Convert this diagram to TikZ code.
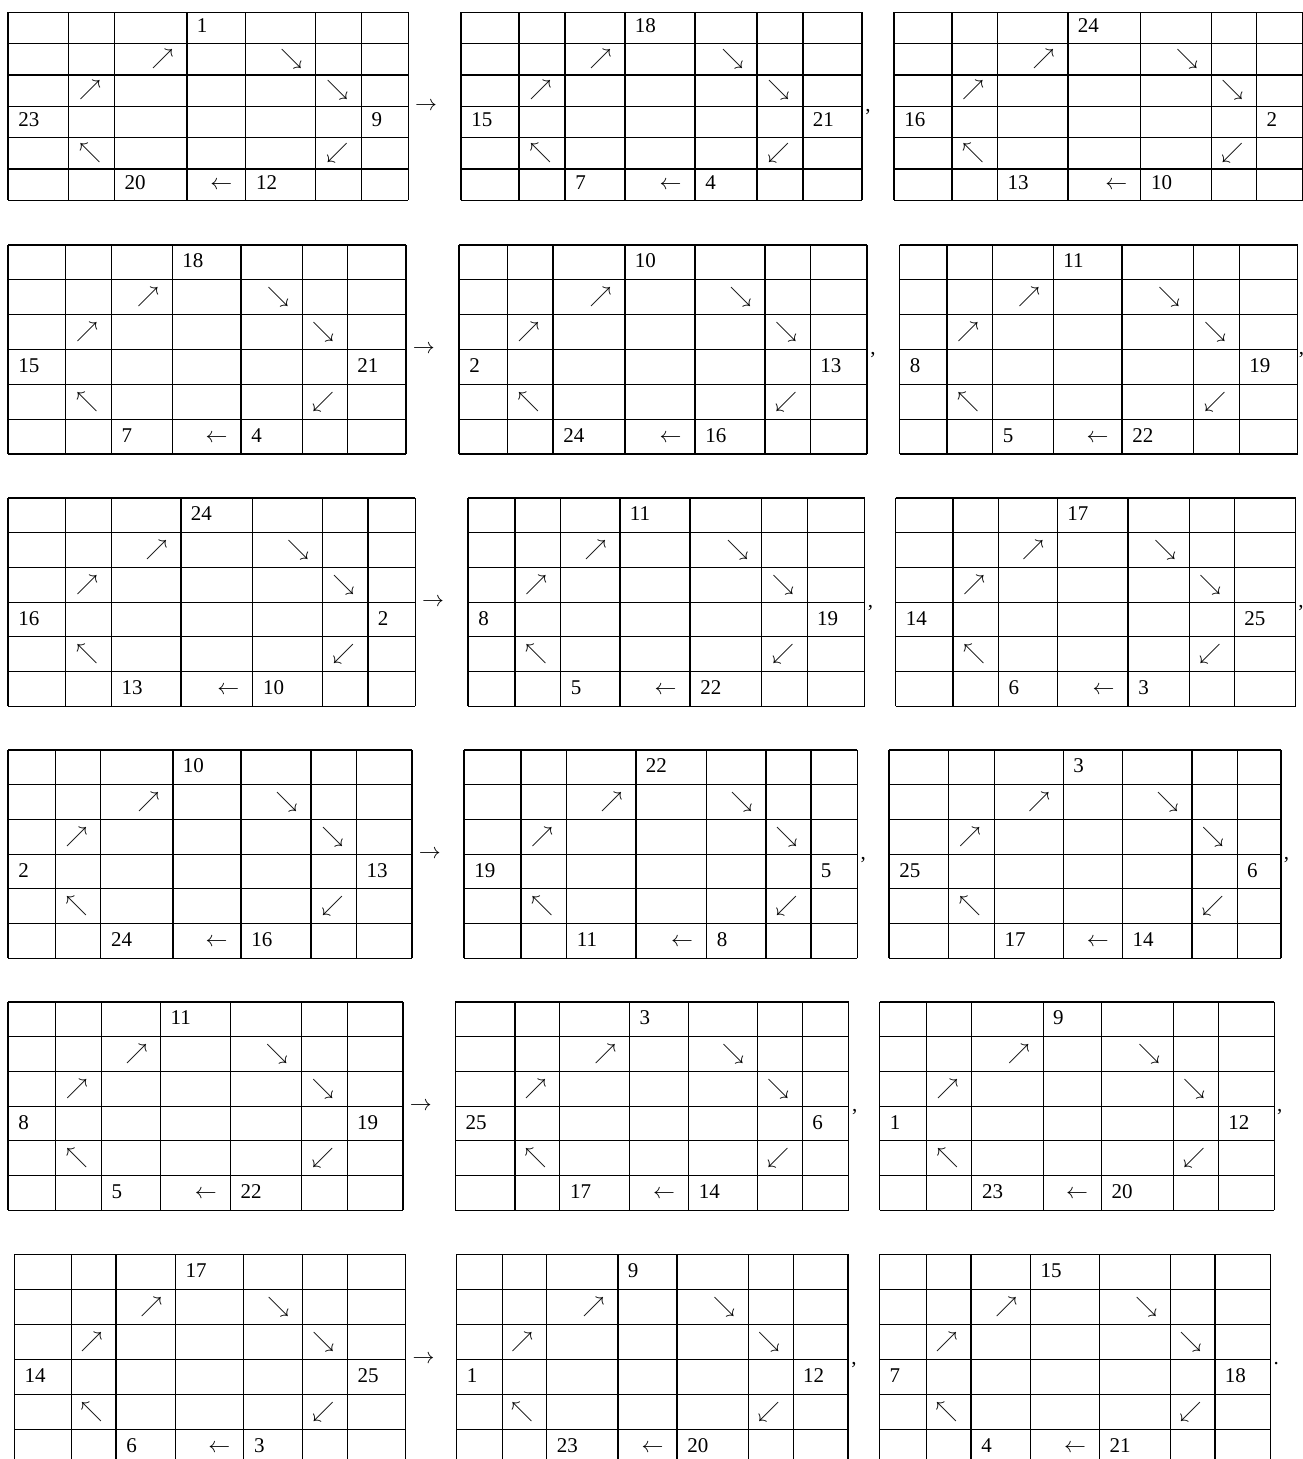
\documentclass[tikz,border=0pt]{standalone}
\usepackage{fontspec}
\setmainfont{Liberation Serif}
\tikzset{
  cellnum/.style={anchor=base west, inner sep=0pt, font=\fontsize{10.5}{12}\selectfont},
  cellarrow/.style={anchor=base east, inner sep=0pt, font=\fontsize{11.2}{12}\selectfont},
  joinsym/.style={inner sep=0pt, font=\fontsize{10.5}{12}\selectfont},
  gridline/.style={line width=0.6pt}
}
\begin{document}
\begin{tikzpicture}[x=0.5pt, y=-0.5pt]
  \useasboundingbox (0,0) rectangle (1302,1459);
  % Grids: 8 column lines / top / row height / top, left, right, bottom-left, bottom-right numbers
  \foreach \xa/\xb/\xc/\xd/\xe/\xf/\xg/\xh/\yt/\hh/\nt/\nl/\nr/\nbl/\nbr [count=\n] in {
      8/68.7/114.3/187/245.7/315.7/361.7/408.3/12.3/31.33/1/23/9/20/12,
      461/519/565/625/695/757/803/862/12.3/31.33/18/15/21/7/4,
      894/952/997.3/1068/1140.7/1211.3/1256.7/1303/12.3/31.33/24/16/2/13/10,
      8/65.5/111.3/172.5/241/302.5/347.5/406/245/34.83/18/15/21/7/4,
      459/507.5/553/625/695/765/810.5/867/245/34.83/10/2/13/24/16,
      899.5/947/992.5/1053.5/1122/1193.5/1239.5/1297.5/245/34.83/11/8/19/5/22,
      8/65.6/111.3/181/252.7/322.3/368/415.3/498/34.7/24/16/2/13/10,
      468/515/560.5/620/690/761.8/807.3/864.5/498/34.7/11/8/19/5/22,
      895.5/953/998.3/1057.5/1128/1189.5/1234.5/1295.5/498/34.7/17/14/25/6/3,
      8/55.8/100.8/173/241/311/356.8/412/750/34.7/10/2/13/24/16,
      464/521/566.5/636/706.5/766/811/857.3/750/34.7/22/19/5/11/8,
      889/948.8/994.2/1063.5/1122.2/1192/1237.2/1281/750/34.7/3/25/6/17/14,
      8/55.7/101.2/160.8/230.2/301.2/347.2/403/1002/34.7/11/8/19/5/22,
      455.3/515/559.8/629.7/688.5/757.5/802.5/848.8/1002/34.7/3/25/6/17/14,
      879.5/926.3/971.8/1043.2/1101.3/1173.5/1218.4/1274.3/1002/34.7/9/1/12/23/20,
      14.3/71.7/116/175.7/243.7/302.7/347.7/405.7/1254.3/35/17/14/25/6/3,
      456.5/502.5/546.5/618/677/748.3/793.2/848/1254.3/35/9/1/12/23/20,
      879.3/926.7/971/1030.7/1099.3/1170.7/1215/1270.7/1254.3/35/15/7/18/4/21} {
    % lines
    \foreach \x in {\xa,\xb,\xc,\xd,\xe,\xf,\xg,\xh}
      \draw[gridline] (\x,\yt) -- (\x,\yt+6*\hh);
    \foreach \i in {0,...,6}
      \draw[gridline] (\xa,\yt+\i*\hh) -- (\xh,\yt+\i*\hh);
    % numbers
    \node[cellnum] (top\n) at (\xd+9.5,\yt+0.66*\hh) {\nt};
    \node[cellnum] (left\n) at (\xa+10,\yt+3.66*\hh) {\nl};
    \node[cellnum] (right\n) at (\xg+9.5,\yt+3.66*\hh) {\nr};
    \node[cellnum] (bl\n) at (\xc+10,\yt+5.66*\hh) {\nbl};
    \node[cellnum] (br\n) at (\xe+10,\yt+5.66*\hh) {\nbr};
    % arrows
    \node[cellarrow] (nea\n) at (\xd-13,\yt+1.66*\hh) {$\nearrow$};
    \node[cellarrow] (sea\n) at (\xf-13,\yt+1.66*\hh) {$\searrow$};
    \node[cellarrow] (neb\n) at (\xc-13,\yt+2.66*\hh) {$\nearrow$};
    \node[cellarrow] (seb\n) at (\xg-13,\yt+2.66*\hh) {$\searrow$};
    \node[cellarrow] (nw\n) at (\xc-13,\yt+4.66*\hh) {$\nwarrow$};
    \node[cellarrow] (sw\n) at (\xg-13,\yt+4.66*\hh) {$\swarrow$};
    \node[cellarrow] (lt\n) at (\xe-13,\yt+5.66*\hh) {$\leftarrow$};
  }
  % arrows and commas between grids
  \foreach \ga/\ax/\gb [count=\r] in {408.3/106.3/862, 406/349.4/867, 415.3/602.1/864.5,
                                      412/854.1/857.3, 403/1106.1/848.8, 405.7/1359.3/848} {
    \node[joinsym, anchor=west] (to\r) at (\ga+6.5,\ax) {$\rightarrow$};
    \node[joinsym, anchor=base west] (cm\r) at (\gb+3,\ax+5.2) {,};
  }
  \foreach \gc/\ax/\p [count=\r] in {1296/349.4/{,}, 1295.5/602.1/{,}, 1281/854.1/{,},
                                     1274.3/1106.1/{,}, 1270.7/1359.3/.} {
    \node[joinsym, anchor=base west] (end\r) at (\gc+2.5,\ax+5.2) {\p};
  }
\end{tikzpicture}
\end{document}
